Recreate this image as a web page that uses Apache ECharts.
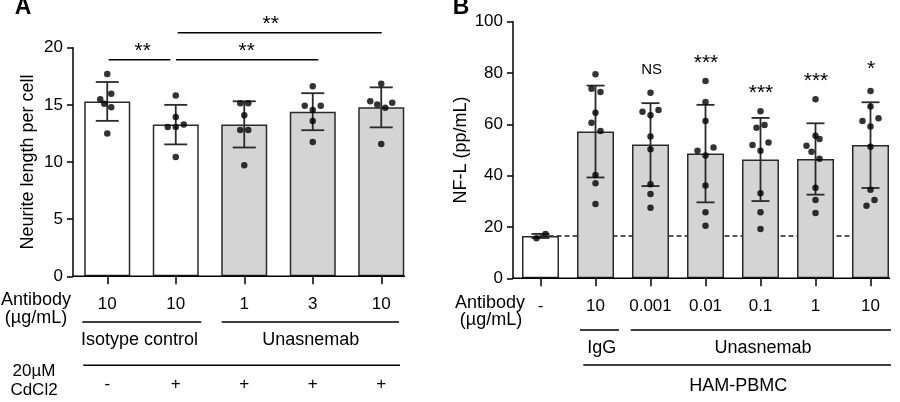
<!DOCTYPE html>
<html>
<head>
<meta charset="utf-8">
<script src="https://cdn.jsdelivr.net/npm/echarts@6/dist/echarts.min.js"></script>
<style>
html, body { margin: 0; padding: 0; background: #fff; }
#chart { width: 900px; height: 402px; }
</style>
</head>
<body>
<div id="chart"></div>
<script>
// ---- panel A: neurite length ----
var catsA = ['10', '10', '1', '3', '10']
var cdA = ['-', '+', '+', '+', '+']
var meanA = [15.3, 13.27, 13.29, 14.4, 14.78]
var sdA = [1.7, 1.73, 2.02, 1.62, 1.75]
var pointsA = [
  [17.7, 15.97, 15.5, 15.1, 14.8, 12.5],
  [15.82, 13.93, 13.06, 13.06, 13.27, 10.44],
  [15.15, 15.15, 14.08, 12.8, 12.8, 9.71],
  [16.63, 14.92, 14.92, 14.54, 13.58, 11.75],
  [16.84, 15.32, 15.03, 14.74, 15.18, 11.57]
]
// ---- panel B: NF-L ----
var catsB = ['-', '10', '0.001', '0.01', '0.1', '1', '10']
var meanB = [16.5, 57.2, 52.1, 48.6, 46.3, 46.5, 51.9]
var sdB = [0.8, 17.9, 16.15, 19.0, 16.2, 13.9, 16.7]
var pointsB = [
  [15.6, 17.3],
  [79.5, 73.9, 72.6, 64.5, 60.6, 57.4, 40.3, 37.0, 29.0],
  [72.3, 64.9, 63.5, 65.6, 55.3, 50.3, 36.7, 32.9, 27.5],
  [76.9, 68.7, 61.3, 49.7, 51.0, 47.9, 36.2, 25.7, 20.5],
  [65.1, 58.7, 59.7, 51.9, 52.9, 49.7, 33.1, 25.7, 19.2],
  [69.8, 55.6, 54.3, 51.7, 49.3, 46.6, 35.3, 30.5, 25.4],
  [73.0, 67.0, 61.3, 62.4, 59.2, 51.3, 34.5, 30.5, 28.3]
]
var baselineB = 16.5

// horizontal spread of the dots, in px
var jitterA = [
  [0, 4, -7, -3, 4, 0],
  [0, 0, -8, 0, 8, 0],
  [-4, 4, 0, -4, 4, 0],
  [0, -8, 8, 0, 0, 0],
  [0, -11, -4, 4, 11, 0]
]
var jitterB = [
  [-4, 5],
  [0, -4, 5, 0, -4, 5, 0, 0, 0],
  [0, -8, 0, 8, 0, 0, 0, 0, 0],
  [0, 0, 0, -8, 8, 0, 0, 0, 0],
  [0, -4, 4, -8, 8, 0, 0, 0, 0],
  [0, 0, 4, -9, -4, 4, 0, 0, 0],
  [0, 0, -8, 8, 0, 0, 0, 4, -4]
]

var FONT = 'Liberation Sans, Arial, sans-serif'
var INK = '#000'
var EDGE = '#2a2a2a'
var GRAY = '#d4d4d4'

function barData(means, whiteCount) {
  return means.map(function(v, i) {
    return { value: v, itemStyle: { color: i < whiteCount ? '#fff' : GRAY } }
  })
}
function errData(means, sds) {
  return means.map(function(v, i) { return [i, v, sds[i]] })
}
function dotData(points, jitter) {
  var out = []
  points.forEach(function(grp, i) {
    grp.forEach(function(v, j) {
      out.push({ value: [i, v], symbolOffset: [jitter[i][j], 0] })
    })
  })
  return out
}
function errorBar(capW) {
  return function(params, api) {
    var x = api.value(0)
    var m = api.value(1)
    var e = api.value(2)
    var hi = api.coord([x, m + e])
    var lo = api.coord([x, m - e])
    var st = { stroke: EDGE, lineWidth: 1.8 }
    return {
      type: 'group',
      children: [
        { type: 'line', shape: { x1: hi[0], y1: hi[1], x2: lo[0], y2: lo[1] }, style: st },
        { type: 'line', shape: { x1: hi[0] - capW / 2, y1: hi[1], x2: hi[0] + capW / 2, y2: hi[1] }, style: st },
        { type: 'line', shape: { x1: lo[0] - capW / 2, y1: lo[1], x2: lo[0] + capW / 2, y2: lo[1] }, style: st }
      ]
    }
  }
}
function hline(x1, x2, y) {
  return { type: 'line', shape: { x1: x1, y1: y, x2: x2, y2: y }, style: { stroke: INK, lineWidth: 1.5 }, z: 10 }
}
function txt(s, x, y, size, bold) {
  return {
    type: 'text', x: x, y: y, z: 10,
    style: { text: s, fill: INK, font: (bold ? 'bold ' : '') + size + 'px ' + FONT, align: 'center', verticalAlign: 'middle' }
  }
}

var chart = echarts.init(document.getElementById('chart'))
var option = {
  animation: false,
  backgroundColor: '#fff',
  textStyle: { fontFamily: FONT },
  grid: [
    { left: 73, width: 342.5, top: 47.7, height: 228.6 },
    { left: 513, width: 385, top: 21.7, height: 256.6 }
  ],
  xAxis: [
    {
      type: 'category', gridIndex: 0, data: catsA,
      axisLine: { show: false },
      axisTick: { show: true, alignWithLabel: true, length: 8, lineStyle: { color: INK, width: 1.5 } },
      axisLabel: { color: INK, fontSize: 17, margin: 20, interval: 0, fontFamily: FONT }
    },
    {
      type: 'category', gridIndex: 0, data: cdA, position: 'bottom', offset: 92,
      axisLine: { show: false }, axisTick: { show: false },
      axisLabel: { color: INK, fontSize: 17, margin: 8, interval: 0, fontFamily: FONT }
    },
    {
      type: 'category', gridIndex: 1, data: catsB,
      axisLine: { show: false },
      axisTick: { show: true, alignWithLabel: true, length: 8, lineStyle: { color: INK, width: 1.5 } },
      axisLabel: { color: INK, fontSize: 17, margin: 20, interval: 0, fontFamily: FONT }
    }
  ],
  yAxis: [
    {
      type: 'value', gridIndex: 0, min: 0, max: 20, interval: 5,
      name: 'Neurite length per cell', nameLocation: 'middle', nameGap: 36,
      nameTextStyle: { color: INK, fontSize: 18, fontFamily: FONT },
      axisLine: { show: true, lineStyle: { color: INK, width: 1.5 } },
      axisTick: { show: true, length: 6, lineStyle: { color: INK, width: 1.5 } },
      axisLabel: { color: INK, fontSize: 17, margin: 10, fontFamily: FONT },
      splitLine: { show: false }
    },
    {
      type: 'value', gridIndex: 1, min: 0, max: 100, interval: 20,
      name: 'NF-L (pp/mL)', nameLocation: 'middle', nameGap: 43,
      nameTextStyle: { color: INK, fontSize: 18, fontFamily: FONT },
      axisLine: { show: true, lineStyle: { color: INK, width: 1.5 } },
      axisTick: { show: true, length: 6, lineStyle: { color: INK, width: 1.5 } },
      axisLabel: { color: INK, fontSize: 17, margin: 10, fontFamily: FONT },
      splitLine: { show: false }
    }
  ],
  series: [
    {
      type: 'bar', xAxisIndex: 0, yAxisIndex: 0, barWidth: 46, z: 2,
      data: barData(meanA, 2),
      itemStyle: { borderColor: EDGE, borderWidth: 1.5 }
    },
    {
      type: 'custom', xAxisIndex: 0, yAxisIndex: 0, z: 3,
      renderItem: errorBar(23), data: errData(meanA, sdA)
    },
    {
      type: 'scatter', xAxisIndex: 0, yAxisIndex: 0, z: 4,
      symbolSize: 6.5, itemStyle: { color: '#000' },
      data: dotData(pointsA, jitterA)
    },
    {
      type: 'line', xAxisIndex: 2, yAxisIndex: 1, z: 1, symbol: 'none',
      lineStyle: { color: '#222', width: 1.5, type: [5, 3] },
      data: [[0, baselineB], [catsB.length - 1, baselineB]]
    },
    {
      type: 'bar', xAxisIndex: 2, yAxisIndex: 1, barWidth: 37, z: 2,
      data: barData(meanB, 1),
      itemStyle: { borderColor: EDGE, borderWidth: 1.5 }
    },
    {
      type: 'custom', xAxisIndex: 2, yAxisIndex: 1, z: 3,
      renderItem: errorBar(18), data: errData(meanB, sdB)
    },
    {
      type: 'scatter', xAxisIndex: 2, yAxisIndex: 1, z: 4,
      symbolSize: 6.5, itemStyle: { color: '#000' },
      data: dotData(pointsB, jitterB)
    }
  ],
  graphic: [
    // panel letters
    txt('A', 23, 8, 23, true),
    txt('B', 461, 8, 23, true),
    // panel A axis line and brackets
    hline(72, 405, 276.3),
    hline(108.7, 170.3, 59.7), txt('**', 142.7, 51, 21, false),
    hline(176, 318.3, 59.7), txt('**', 246.7, 51, 21, false),
    hline(177.7, 381.7, 32.7), txt('**', 270.7, 24, 21, false),
    // panel A row labels
    txt('Antibody', 36, 300, 18), txt('(µg/mL)', 36, 318.5, 18),
    hline(82.3, 201.3, 322), hline(221.7, 399, 322),
    txt('Isotype control', 139.5, 340.5, 18), txt('Unasnemab', 310.8, 340.5, 18),
    hline(83.3, 400, 365.3),
    txt('20µM', 34, 371.5, 17), txt('CdCl2', 34, 390.5, 17),
    // panel B axis line, significance
    hline(512, 890, 278.3),
    txt('NS', 651.7, 70, 15), txt('***', 706, 63.5, 21), txt('***', 761, 93, 21),
    txt('***', 816, 81.5, 21), txt('*', 871, 69.5, 21),
    // panel B row labels
    txt('Antibody', 490, 303.5, 18), txt('(µg/mL)', 491, 320.5, 18),
    hline(580, 619, 330), hline(630.7, 891, 330),
    txt('IgG', 601.7, 348.5, 18), txt('Unasnemab', 763, 348.5, 18),
    hline(583.3, 891, 365),
    txt('HAM-PBMC', 738.3, 386, 18)
  ]
}
chart.setOption(option, true)
</script>
</body>
</html>
